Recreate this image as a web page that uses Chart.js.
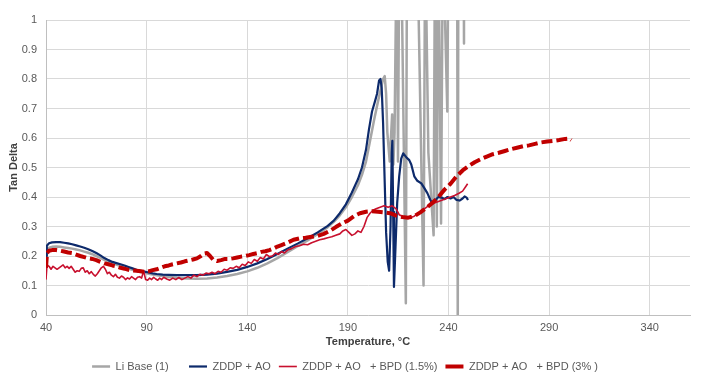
<!DOCTYPE html>
<html>
<head>
<meta charset="utf-8">
<script src="https://cdn.jsdelivr.net/npm/chart.js@4/dist/chart.umd.min.js"></script>
<style>
  html, body { margin: 0; padding: 0; background: #ffffff; }
  #wrap { width: 711px; height: 384px; position: relative; }
</style>
</head>
<body>
<div id="wrap"><canvas id="c" width="711" height="384"></canvas></div>
<script>
// ---- Data ----
const seriesLabels = ["Li Base (1)", "ZDDP + AO", "ZDDP + AO   + BPD (1.5%)", "ZDDP + AO   + BPD (3% )"];
const xTickValues = [40, 90, 140, 190, 240, 290, 340];
const yTickValues = [0, 0.1, 0.2, 0.3, 0.4, 0.5, 0.6, 0.7, 0.8, 0.9, 1];

// Li Base (1)
const liBaseT = [40.0,40.4,41.5,43,45,47,49,51,53,55,57,59,61,63,65,67,69,71,73,75,77,79,81,83,85,87,89,91,93,95,98,101,105,110,115,120,125,130,135,140,145,150,155,160,165,170,175,180,183,186,189,192,195,197,199,201,203,205,206.5,207.5,208.3,209,209.6,210.8,212.0,212.6,213.2,214.3,214.9,215.6,216.4,218.8,219.4,224.4,227.6,228.4,230.0,232.6,233.3,234.2,235.0,236.3,237.2,239.4,240.0,244.3,244.6,244.9,247.5,247.7];
const liBaseV = [0.19,0.222,0.228,0.231,0.232,0.231,0.229,0.227,0.225,0.222,0.219,0.215,0.211,0.206,0.2,0.194,0.187,0.181,0.176,0.171,0.166,0.161,0.157,0.153,0.149,0.146,0.143,0.14,0.137,0.135,0.132,0.129,0.126,0.124,0.123,0.124,0.127,0.132,0.139,0.148,0.16,0.175,0.193,0.213,0.233,0.253,0.275,0.298,0.316,0.338,0.365,0.4,0.44,0.475,0.52,0.59,0.66,0.725,0.77,0.8,0.81,0.75,0.62,0.52,0.68,0.51,0.62,1.3,0.52,1.3,1.3,0.04,1.3,1.3,0.10,1.3,0.55,0.27,1.3,0.30,1.3,0.31,1.3,0.69,1.3,1.3,-0.05,1.3,1.3,0.92];

// ZDDP + AO
const zddpT = [40.0,40.4,41.5,43,45,47,49,51,53,55,57,59,61,63,65,67,69,71,73,75,77,79,81,83,85,87,89,91,93,95,98,101,105,110,115,120,125,130,135,140,145,150,155,160,165,170,175,180,183,186,189,192,195,197,199,200.5,202,203.5,204.5,205.5,206.2,206.8,207.5,208.3,209,209.8,210.5,211.2,211.8,212.1,212.5,212.9,213.5,214.5,215.5,216.5,217.5,219,220.5,221.5,223,224.5,226.5,228,229.5,231,232,233.5,235,236.5,238,239.5,241,242.5,244,245.5,247,248,249,249.7];
const zddpV = [0.20,0.235,0.243,0.246,0.247,0.247,0.245,0.243,0.24,0.236,0.232,0.228,0.223,0.217,0.21,0.202,0.193,0.186,0.18,0.176,0.172,0.168,0.163,0.158,0.153,0.15,0.147,0.144,0.141,0.139,0.137,0.136,0.135,0.135,0.135,0.137,0.14,0.146,0.153,0.163,0.175,0.19,0.207,0.225,0.242,0.26,0.28,0.302,0.32,0.345,0.375,0.415,0.46,0.5,0.56,0.63,0.69,0.725,0.75,0.795,0.8,0.77,0.65,0.45,0.28,0.18,0.15,0.3,0.55,0.59,0.35,0.095,0.2,0.38,0.47,0.53,0.548,0.535,0.525,0.51,0.47,0.455,0.446,0.43,0.413,0.39,0.378,0.39,0.40,0.398,0.393,0.40,0.395,0.40,0.39,0.388,0.395,0.402,0.398,0.39];

// ZDDP + AO + BPD (1.5%)
const bpd15T = [40.0,40.5,41.5,42.5,43.5,44.5,45.5,46.5,47.5,48.5,49.5,50.5,51.5,52.5,53.5,54.5,55.5,56.5,57.5,58.5,59.5,60.5,61.5,62.5,63.5,64.5,65.5,66.5,67.5,68.5,69.5,70.5,71.5,72.5,73.5,74.5,75.5,76.5,77.5,78.5,79.5,80.5,81.5,82.5,83.5,84.5,85.5,86.5,87.5,88.5,89.5,90.5,91.5,92.5,93.5,94.5,95.5,96.5,97.5,98.5,100,101.5,103,104.5,106,107.5,109,110.5,112,113.5,115,116.5,118,119.5,121,122.5,124,125.5,127,128.5,130,131.5,133,134.5,136,137.5,139,140.5,142,143.5,145,146.5,148,149.5,151,152.5,154,155.5,157,158.5,160,162,164,166,168,170,172,174,176,178,180,182,184,186,187.5,189,190.5,192,193.5,195,196.5,198,199.5,201,202.5,204,206,208,210,212,214,215.5,217,219,221,223,225,227,229,231,233,235,237,239,241,243,245,247,248.5,249.5];
const bpd15V = [0.12,0.17,0.165,0.155,0.165,0.16,0.155,0.16,0.165,0.17,0.16,0.165,0.158,0.165,0.155,0.145,0.15,0.148,0.158,0.16,0.145,0.15,0.14,0.147,0.138,0.132,0.14,0.15,0.16,0.165,0.155,0.14,0.145,0.135,0.13,0.138,0.128,0.125,0.132,0.128,0.12,0.126,0.122,0.13,0.125,0.12,0.128,0.13,0.125,0.15,0.12,0.118,0.125,0.12,0.128,0.122,0.118,0.125,0.12,0.128,0.122,0.118,0.125,0.12,0.127,0.12,0.125,0.13,0.125,0.135,0.13,0.138,0.135,0.142,0.14,0.145,0.14,0.148,0.145,0.155,0.152,0.16,0.158,0.165,0.16,0.172,0.168,0.18,0.175,0.188,0.182,0.195,0.19,0.205,0.198,0.2,0.21,0.205,0.215,0.21,0.22,0.225,0.232,0.235,0.24,0.238,0.245,0.25,0.255,0.258,0.262,0.265,0.27,0.275,0.285,0.29,0.28,0.27,0.275,0.285,0.28,0.3,0.33,0.345,0.355,0.36,0.365,0.37,0.365,0.37,0.36,0.34,0.335,0.33,0.33,0.335,0.345,0.355,0.365,0.375,0.38,0.385,0.39,0.395,0.4,0.405,0.412,0.42,0.435,0.445];

// ZDDP + AO + BPD (3%)
const bpd3T = [40.0,40.5,41.5,43,45,47,49,51,53,55,57,59,61,63,65,67,69,71,73,75,77,79,81,83,85,87,89,91,93,95,97,99,101,103,105,107,109,111,113,115,117,118.5,120,121.5,123,125,127,129,131,133,135,137,139,141,143,145,147,149,151,153,155,157,160,163,166,169,172,175,178,181,184,187,190,193,196,199,202,205,208,211,214,217,220,223,226,229,232,235,238,241,244,247,250,253,256,259,262,265,268,271,274,277,280,283,286,289,292,295,298,300,301];
const bpd3V = [0.16,0.21,0.218,0.22,0.22,0.218,0.215,0.212,0.21,0.205,0.2,0.196,0.192,0.19,0.186,0.18,0.175,0.172,0.168,0.165,0.16,0.157,0.153,0.151,0.15,0.148,0.146,0.148,0.152,0.155,0.16,0.165,0.168,0.172,0.175,0.178,0.182,0.185,0.188,0.192,0.2,0.208,0.21,0.2,0.188,0.183,0.186,0.19,0.19,0.192,0.195,0.198,0.2,0.203,0.207,0.21,0.214,0.216,0.22,0.225,0.232,0.237,0.245,0.255,0.26,0.262,0.265,0.268,0.275,0.285,0.298,0.31,0.32,0.335,0.345,0.35,0.352,0.35,0.348,0.345,0.337,0.332,0.33,0.335,0.348,0.363,0.38,0.4,0.425,0.445,0.47,0.49,0.505,0.518,0.528,0.537,0.545,0.55,0.556,0.562,0.567,0.572,0.575,0.58,0.585,0.588,0.59,0.593,0.597,0.598,0.593];

const toXY = (xs, ys) => xs.map((x, i) => ({ x: x, y: ys[i] }));
const FONT = "'Liberation Sans', Arial, sans-serif";
const TXT = '#595959';
const legendTrail = ['    ', '', '', ''];

new Chart(document.getElementById('c'), {
  type: 'line',
  data: {
    datasets: [
      { label: seriesLabels[0], data: toXY(liBaseT, liBaseV), borderColor: '#a6a6a6', backgroundColor: '#a6a6a6', borderWidth: 2.5, order: 3 },
      { label: seriesLabels[1], data: toXY(zddpT, zddpV), borderColor: '#0d2a6b', backgroundColor: '#0d2a6b', borderWidth: 2.2, order: 2 },
      { label: seriesLabels[2], data: toXY(bpd15T, bpd15V), borderColor: '#c8102e', backgroundColor: '#c8102e', borderWidth: 1.6, order: 1 },
      { label: seriesLabels[3], data: toXY(bpd3T, bpd3V), borderColor: '#c00000', backgroundColor: '#c00000', borderWidth: 4, borderDash: [11, 4], order: 0 }
    ]
  },
  options: {
    responsive: false,
    animation: false,
    events: [],
    elements: {
      point: { radius: 0, pointStyle: 'line' },
      line: { tension: 0, fill: false, borderJoinStyle: 'round' }
    },
    layout: { padding: { top: 20, right: 21, left: 0, bottom: 2 } },
    scales: {
      x: {
        type: 'linear',
        min: 40, max: 360,
        afterBuildTicks: (s) => { s.ticks = xTickValues.map(v => ({ value: v })); },
        afterFit: (s) => { s.height = 38; },
        grid: { color: '#d9d9d9', lineWidth: 1, drawTicks: false },
        border: { color: '#bfbfbf', width: 1 },
        ticks: { color: TXT, font: { family: FONT, size: 11 }, padding: 6, maxRotation: 0, autoSkip: false },
        title: { display: true, text: 'Temperature, °C', color: '#404040', font: { family: FONT, size: 11, weight: 'bold' }, padding: { top: 2, bottom: 4 } }
      },
      y: {
        type: 'linear',
        min: 0, max: 1,
        afterBuildTicks: (s) => { s.ticks = yTickValues.map(v => ({ value: v })); },
        afterFit: (s) => { s.width = 46; },
        grid: { color: '#d9d9d9', lineWidth: 1, drawTicks: false },
        border: { color: '#bfbfbf', width: 1 },
        ticks: { color: TXT, font: { family: FONT, size: 11 }, padding: 9, callback: (v) => String(+v.toFixed(1)) },
        title: { display: true, text: 'Tan Delta', color: '#404040', font: { family: FONT, size: 11, weight: 'bold' }, padding: { top: 7, bottom: 0 } }
      }
    },
    plugins: {
      tooltip: { enabled: false },
      legend: {
        position: 'bottom',
        labels: {
          usePointStyle: true,
          pointStyleWidth: 18,
          padding: 8,
          color: TXT,
          font: { family: FONT, size: 11 },
          sort: (a, b) => a.datasetIndex - b.datasetIndex,
          generateLabels: (chart) => {
            const items = Chart.defaults.plugins.legend.labels.generateLabels(chart);
            items.forEach(it => { it.text = it.text + legendTrail[it.datasetIndex]; it.lineDash = []; it.pointStyle = 'line'; });
            return items;
          }
        }
      }
    }
  }
});
</script>
</body>
</html>
